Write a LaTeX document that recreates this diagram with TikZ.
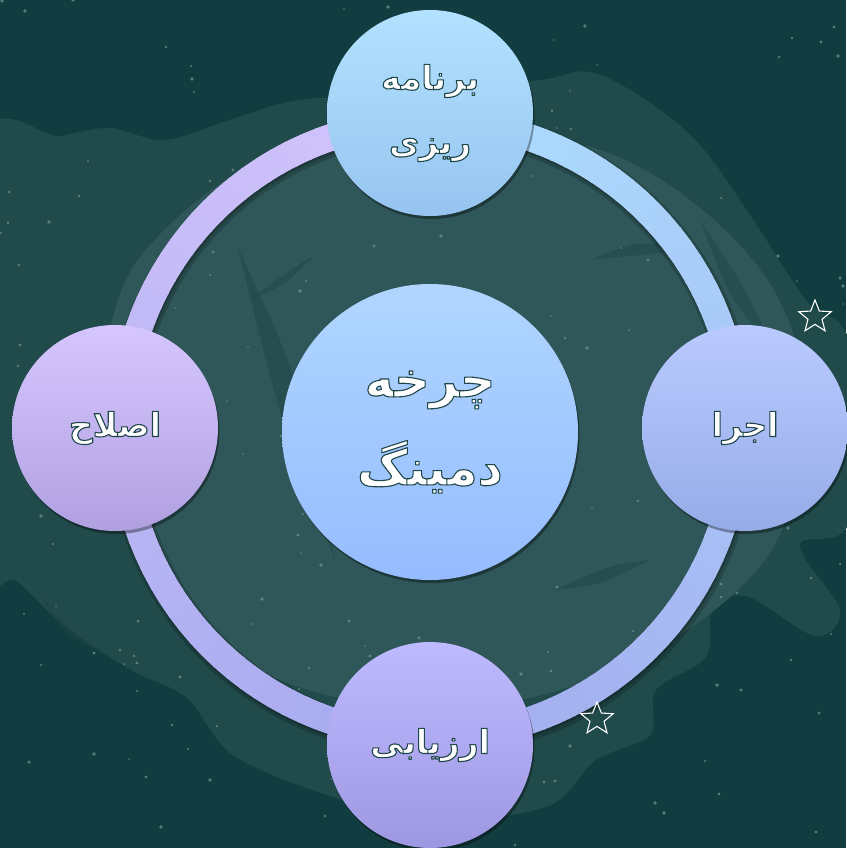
\documentclass[tikz,border=0pt]{standalone}
\usepackage{fontspec}
\TeXXeTstate=1
\newfontfamily\farsi[Script=Arabic]{DejaVu Sans}
\usetikzlibrary{positioning,shapes.geometric,shadows}
\definecolor{NightTeal}{RGB}{17,60,64}
\definecolor{MidTeal}{RGB}{33,74,75}
\definecolor{SoftTeal}{RGB}{47,87,89}
\definecolor{StreakTeal}{RGB}{30,68,70}
\definecolor{SpeckGray}{RGB}{110,145,145}
\definecolor{RingSky}{RGB}{172,222,254}
\definecolor{RingPeri}{RGB}{164,170,238}
\definecolor{RingLilac}{RGB}{212,196,252}
% white persian word, stroked with a dark teal rim (pdf render mode 2)
\newcommand{\fa}[1]{\special{pdf:literal direct 2 Tr 1.1 w 1 j 0.12 0.28 0.29 RG}%
	{\farsi\bfseries\beginR #1\endR}\special{pdf:literal direct 0 Tr}}
\tikzset{
	stage/.style={circle,inner sep=0pt,minimum size=206pt,text=white,align=center,
		font=\fontsize{33}{64}\selectfont,
		drop shadow={shadow xshift=1.5pt,shadow yshift=-3pt,opacity=0.35,fill=black}},
	hub/.style={stage,minimum size=296pt,font=\fontsize{49}{88}\selectfont},
	spark/.style={star,star points=5,star point ratio=2.3,draw=white,line width=1.1pt,
		minimum size=34pt,inner sep=0pt},
	speck/.style={fill=SpeckGray,opacity=0.75},
	streak/.style={fill=StreakTeal,opacity=0.5},
}

\begin{document}
\begin{tikzpicture}[x=1pt,y=-1pt]
	\useasboundingbox (0,0) rectangle (846,848);
	\fill[NightTeal] (0,0) rectangle (846,848);
	% brush blobs behind the cycle
	\fill[MidTeal] plot[smooth cycle,tension=0.55] coordinates {
		(-20,150) (60,136) (110,128) (165,140) (235,118) (300,100) (420,92) (540,80)
		(590,72) (646,100) (700,145) (750,215) (806,300) (850,345) (850,520)
		(800,545) (840,610) (815,636) (749,597) (713,607) (706,657) (656,690)
		(650,735) (596,760) (546,807) (430,820) (330,796) (233,755) (187,698)
		(133,671) (67,628) (17,581) (-20,555)};
	\fill[SoftTeal] plot[smooth cycle,tension=0.6] coordinates {
		(150,245) (255,165) (420,128) (600,150) (725,230) (792,330) (800,450)
		(765,560) (655,650) (520,700) (380,705) (250,665) (140,565) (100,420) (112,320)};
	\fill[streak] (238,248) .. controls (300,380) .. (335,560) .. controls (280,420) .. (238,248);
	\fill[streak] (700,220) .. controls (740,280) .. (775,350) .. controls (730,300) .. (700,220);
	\fill[streak] (555,590) .. controls (610,565) .. (650,560) .. controls (600,585) .. (555,590);
	\fill[streak] (250,300) .. controls (290,270) .. (315,255) .. controls (285,285) .. (250,300);
	\fill[streak] (590,260) .. controls (640,240) .. (690,250) .. controls (640,255) .. (590,260);
	\fill[streak] (40,595) .. controls (70,630) .. (105,655) .. controls (65,635) .. (40,595);
	\pgfmathsetseed{17}
	\foreach \k in {1,...,170}{
		\pgfmathsetmacro{\sx}{random(0,846)}
		\pgfmathsetmacro{\sy}{random(0,848)}
		\pgfmathsetmacro{\sr}{0.8+1.2*rnd}
		\fill[speck] (\sx,\sy) circle[radius=\sr];
	}
	% the cycle ring
	\coordinate (ctr) at (430,429);
	\draw[black,opacity=0.18,line width=33pt] ([shift={(1.5,3)}]ctr) circle[radius=308];
	\draw[black,opacity=0.2,line width=28pt] ([shift={(1,2)}]ctr) circle[radius=308];
	\foreach \i in {0,...,119}{
		\pgfmathsetmacro{\ang}{270+3*\i}
		\ifnum\i<60
			\pgfmathtruncatemacro{\mix}{100-100*\i/60}
			\colorlet{segc}{RingSky!\mix!RingPeri}
		\else
			\pgfmathtruncatemacro{\mix}{100-100*(\i-60)/59}
			\colorlet{segc}{RingPeri!\mix!RingLilac}
		\fi
		\draw[segc,line width=27pt] (ctr) ++(\ang:308) arc[start angle=\ang,delta angle=3.4,radius=308];
	}
	% stages
	\node[hub,top color={rgb,255:red,176;green,214;blue,255},bottom color={rgb,255:red,150;green,188;blue,255}]
		(hub) at (430,432) {\fa{چرخه}\\\fa{دمینگ}};
	\node[stage,top color={rgb,255:red,178;green,226;blue,255},bottom color={rgb,255:red,150;green,196;blue,240}]
		(plan) at (430,113) {\fa{برنامه}\\\fa{ریزی}};
	\node[stage,top color={rgb,255:red,186;green,202;blue,255},bottom color={rgb,255:red,150;green,172;blue,232}]
		(doit) at (745,428) {\fa{اجرا}};
	\node[stage,top color={rgb,255:red,190;green,186;blue,255},bottom color={rgb,255:red,158;green,152;blue,226}]
		(check) at (430,745) {\fa{ارزیابی}};
	\node[stage,top color={rgb,255:red,214;green,198;blue,255},bottom color={rgb,255:red,176;green,160;blue,224}]
		(act) at (115,428) {\fa{اصلاح}};
	\node[spark] (sparkA) at (815,317) {};
	\node[spark] (sparkB) at (597,719) {};
\end{tikzpicture}
\end{document}
